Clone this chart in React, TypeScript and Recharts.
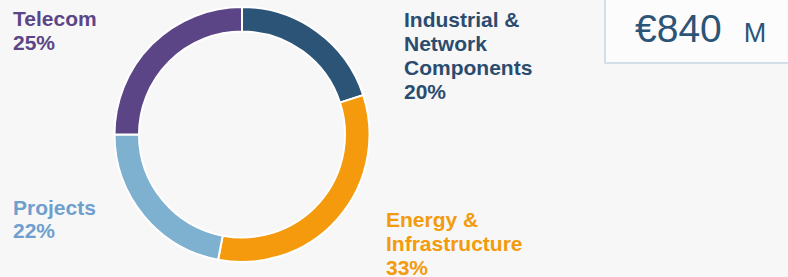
import React from "react";
import { PieChart, Pie, Cell, Customized } from "recharts";

const segments = ["Industrial & Network Components", "Energy & Infrastructure", "Projects", "Telecom"];
const shares = [20, 33, 22, 25];
const segmentColors = ["#2c5477", "#f49a0c", "#7eb0cf", "#5c4587"];
const labelLines = [
  ["Industrial &", "Network", "Components", "20%"],
  ["Energy &", "Infrastructure", "33%"],
  ["Projects", "22%"],
  ["Telecom", "25%"],
];
const labelColors = ["#2b4c6e", "#f39a0d", "#6f9fcd", "#5c4587"];
const labelAnchors = [
  { x: 404, y: 27, lh: 24 },
  { x: 386, y: 227, lh: 24 },
  { x: 13, y: 215, lh: 23 },
  { x: 13, y: 26, lh: 24 },
];
const totalValue = "€840";
const totalUnit = "M";

const data = segments.map((name, i) => ({ name, value: shares[i] }));

const W = 788;
const H = 277;

function Labels() {
  return (
    <g>
      {labelLines.map((lines, i) => (
        <text
          key={i}
          x={labelAnchors[i].x}
          y={labelAnchors[i].y}
          fill={labelColors[i]}
          fontFamily="'Liberation Sans', Arial, sans-serif"
          fontWeight="bold"
          fontSize={21}
        >
          {lines.map((ln, j) => (
            <tspan key={j} x={labelAnchors[i].x} y={labelAnchors[i].y + j * labelAnchors[i].lh}>
              {ln}
            </tspan>
          ))}
        </text>
      ))}
      <rect x={605} y={-10} width={200} height={73} fill="#ffffff" fillOpacity={0.6} stroke="#d3deeb" strokeWidth={2} />
      <text x={635} y={42} fill="#2c5477" fontFamily="'Liberation Sans', Arial, sans-serif">
        <tspan fontSize={39}>{totalValue}</tspan>
        <tspan fontSize={27} dx={22}>{totalUnit}</tspan>
      </text>
    </g>
  );
}

export default function App() {
  return (
    <div style={{ position: "fixed", left: 0, top: 0, width: W, height: H, background: "#f7f7f7", overflow: "hidden" }}>
      <PieChart width={W} height={H} margin={{ top: 0, right: 0, bottom: 0, left: 0 }}>
        <Pie
          data={data}
          dataKey="value"
          nameKey="name"
          cx={242}
          cy={134.5}
          innerRadius={103}
          outerRadius={127.5}
          startAngle={90}
          endAngle={-270}
          stroke="#ffffff"
          strokeWidth={2}
          isAnimationActive={false}
        >
          {data.map((d, i) => (
            <Cell key={d.name} fill={segmentColors[i]} />
          ))}
        </Pie>
        <Customized component={Labels} />
      </PieChart>
    </div>
  );
}
